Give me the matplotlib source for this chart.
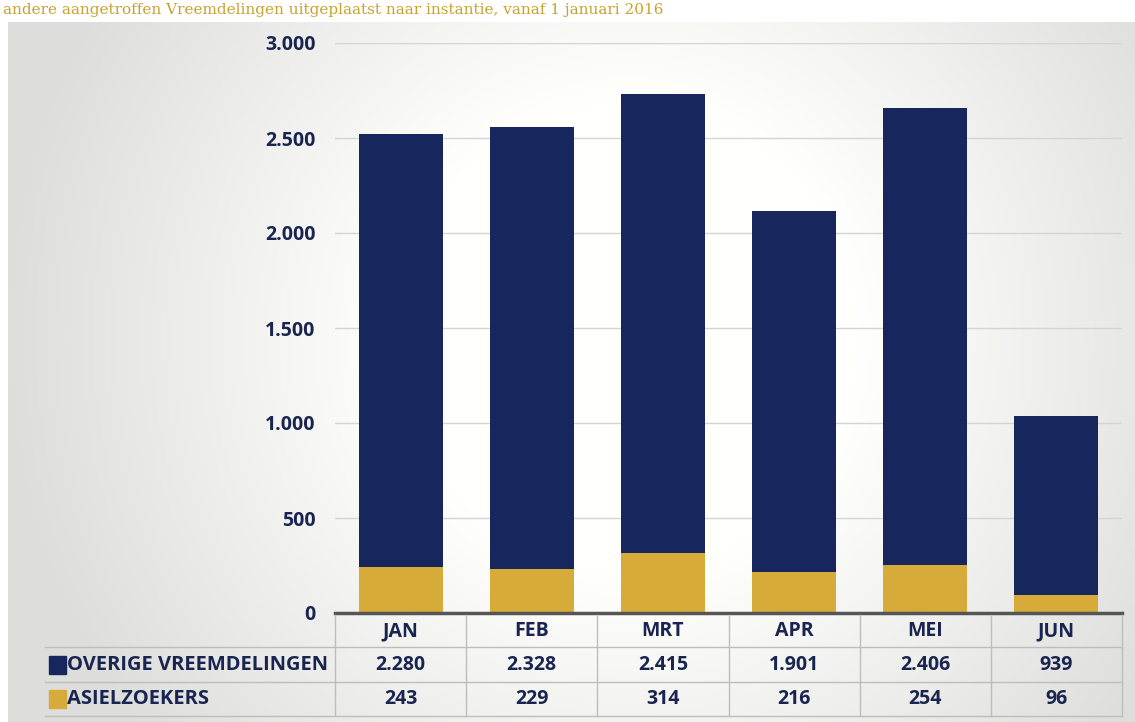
import numpy as np
import matplotlib.pyplot as plt

# data
maanden = ["JAN", "FEB", "MRT", "APR", "MEI", "JUN"]
overige = [2280, 2328, 2415, 1901, 2406, 939]
asiel = [243, 229, 314, 216, 254, 96]
reeks_namen = ["OVERIGE VREEMDELINGEN", "ASIELZOEKERS"]
yticks = [0, 500, 1000, 1500, 2000, 2500, 3000]

navy = "#17275e"
gold = "#d6ab3a"
tekst = "#1a2450"

plt.rcParams["font.family"] = ["Open Sans", "DejaVu Sans"]

W, H = 1135, 722
fig = plt.figure(figsize=(W / 100, H / 100), dpi=100)


def px(x0, y0, x1, y1):
    # pixel box (from top-left) -> figure fraction
    return [x0 / W, 1 - y1 / H, (x1 - x0) / W, (y1 - y0) / H]


# achtergrond: grijs aan de randen, wit in het midden
bg = fig.add_axes(px(8, 22, W, H), zorder=-10)
xx, yy = np.meshgrid(np.linspace(0, 1, 300), np.linspace(0, 1, 200))
d = np.clip(1 - np.hypot((xx - 0.55) / 0.55, (yy - 0.45) / 0.9), 0, 1)
grijs = 0.87 + 0.13 * np.clip(d * 1.6, 0, 1)
img = np.dstack([grijs, grijs, grijs * 0.99])
bg.imshow(img, aspect="auto", extent=[0, 1, 0, 1])
bg.axis("off")

# tekst bovenaan (in het origineel half weggevallen)
fig.text(3 / W, 1 - 10 / H, "andere aangetroffen Vreemdelingen uitgeplaatst naar instantie, vanaf 1 januari 2016",
         family="DejaVu Serif", fontsize=11, color="#c9a22e", va="center", ha="left")

fs = 14

# grafiek
ax = fig.add_axes(px(335, 43, 1122, 613))
x = np.arange(len(maanden))
ax.bar(x, asiel, width=0.64, color=gold, zorder=3)
ax.bar(x, overige, bottom=asiel, width=0.64, color=navy, zorder=3)
ax.set_xlim(-0.5, 5.5)
ax.set_ylim(0, 3000)
ax.set_yticks(yticks)
ax.set_yticklabels([f"{v:,}".replace(",", ".") for v in yticks],
                   fontsize=fs, fontweight="bold", color=tekst)
ax.tick_params(axis="y", length=0, pad=14)
ax.set_xticks([])
ax.grid(axis="y", color="#d4d4d4", linewidth=1, zorder=0)
ax.patch.set_alpha(0)
for s in ["top", "right", "left"]:
    ax.spines[s].set_visible(False)
ax.spines["bottom"].set_color("#555555")
ax.spines["bottom"].set_linewidth(2.5)
ax.spines["bottom"].set_zorder(5)

# datatabel
tab = fig.add_axes(px(335, 615, 1122, 716))
tab.set_xlim(-0.5, 5.5)
tab.set_ylim(3, 0)
tab.axis("off")
lijn = "#bdbdbd"
grenzen = [0, 0.95, 2.0, 3]
for yb in grenzen[1:]:
    tab.plot([-2.71, 5.5], [yb, yb], color=lijn, lw=1, clip_on=False)
for xv in np.arange(-0.5, 6.0, 1):
    tab.plot([xv, xv], [0, 3], color=lijn, lw=1, clip_on=False)

midden = [(grenzen[i] + grenzen[i + 1]) / 2 for i in range(3)]
for i, m in enumerate(maanden):
    tab.text(i, midden[0], m, ha="center", va="center", fontsize=fs, fontweight="bold", color=tekst)
    tab.text(i, midden[1], f"{overige[i]:,}".replace(",", "."), ha="center", va="center",
             fontsize=fs, fontweight="bold", color=tekst)
    tab.text(i, midden[2], f"{asiel[i]:,}".replace(",", "."), ha="center", va="center",
             fontsize=fs, fontweight="bold", color=tekst)

for naam, kleur, ym in zip(reeks_namen, [navy, gold], midden[1:]):
    tab.add_patch(plt.Rectangle((-2.68, ym - 0.27), 0.13, 0.54, color=kleur, clip_on=False))
    tab.text(-2.545, ym, naam, ha="left", va="center", fontsize=14.5, fontweight="bold", color=tekst)

fig.savefig("out.png", dpi=100)
